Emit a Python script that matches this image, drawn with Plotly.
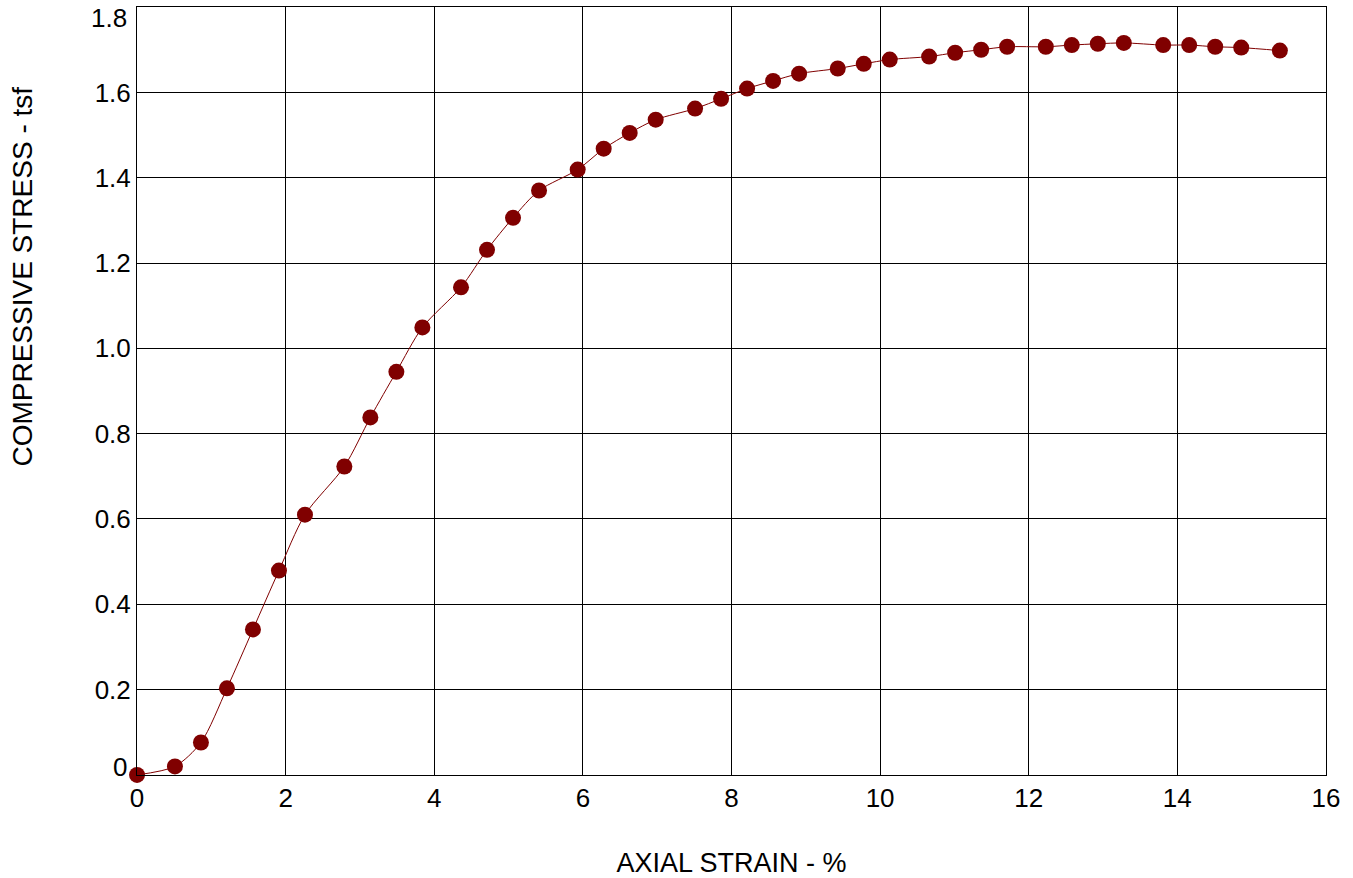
import plotly.graph_objects as go

strain = [0.0, 0.51, 0.86, 1.21, 1.56, 1.91, 2.26, 2.79, 3.14, 3.49, 3.84, 4.36, 4.71,
          5.06, 5.41, 5.93, 6.28, 6.63, 6.98, 7.51, 7.86, 8.21, 8.56, 8.91, 9.43, 9.78,
          10.13, 10.66, 11.01, 11.36, 11.71, 12.23, 12.58, 12.93, 13.28, 13.81, 14.16,
          14.51, 14.86, 15.38]
stress = [0.0, 0.02, 0.076, 0.203, 0.341, 0.479, 0.61, 0.723, 0.838, 0.945, 1.049, 1.143,
          1.231, 1.306, 1.37, 1.419, 1.468, 1.505, 1.536, 1.562, 1.585, 1.609, 1.627, 1.644,
          1.656, 1.667, 1.677, 1.684, 1.693, 1.700, 1.707, 1.707, 1.711, 1.714, 1.716, 1.711,
          1.711, 1.707, 1.705, 1.698]

x_ticks = [0, 2, 4, 6, 8, 10, 12, 14, 16]
x_tick_labels = ["0", "2", "4", "6", "8", "10", "12", "14", "16"]
y_ticks = [0, 0.2, 0.4, 0.6, 0.8, 1.0, 1.2, 1.4, 1.6, 1.8]
y_tick_labels = ["0", "0.2", "0.4", "0.6", "0.8", "1.0", "1.2", "1.4", "1.6", "1.8"]

x_title = "AXIAL STRAIN - %"
y_title = "COMPRESSIVE STRESS - tsf"

fig = go.Figure()
fig.add_trace(go.Scatter(
    x=strain, y=stress, mode="lines+markers",
    line=dict(color="#800000", width=1, shape="spline", smoothing=0.8),
    marker=dict(color="#800000", size=16),
    cliponaxis=False, showlegend=False,
))

font = "Liberation Sans, Arial, sans-serif"
fig.update_layout(
    width=1353, height=878,
    margin=dict(l=137, r=27, t=7, b=103),
    paper_bgcolor="white", plot_bgcolor="white",
    font=dict(family=font, color="black"),
)
fig.update_xaxes(
    range=[-0.0005, 16.001], tickvals=x_ticks, ticktext=x_tick_labels,
    showgrid=True, gridcolor="black", gridwidth=1,
    showline=True, linecolor="black", linewidth=1, mirror=True,
    zeroline=False, ticks="", tickfont=dict(size=26),
    title=dict(text=x_title, font=dict(size=27), standoff=46),
    automargin=False,
)
# the end labels (0 and 1.8) are nudged inside the plot, as in the original
inner_text = [t if v not in (y_ticks[0], y_ticks[-1]) else "" for v, t in zip(y_ticks, y_tick_labels)]
fig.update_yaxes(
    range=[-0.0002, 1.8002], tickvals=y_ticks, ticktext=inner_text,
    showgrid=True, gridcolor="black", gridwidth=1,
    showline=True, linecolor="black", linewidth=1, mirror=True,
    zeroline=False, ticks="", tickfont=dict(size=26),
    automargin=False,
)
for v, t, shift in [(y_ticks[0], y_tick_labels[0], 8), (y_ticks[-1], y_tick_labels[-1], -11)]:
    fig.add_annotation(
        x=0, xref="paper", y=v, yref="y", text=t, showarrow=False,
        xanchor="right", yanchor="middle", xshift=-8, yshift=shift,
        font=dict(size=26, family=font, color="black"),
    )
fig.add_annotation(
    x=-0.0971, xref="paper", y=0.6484, yref="paper", text=y_title, textangle=-90,
    showarrow=False, xanchor="center", yanchor="middle",
    font=dict(size=28, family=font, color="black"),
)

fig.write_html("out.html", config={"displayModeBar": False},
               post_script="document.body.style.margin='0';")
